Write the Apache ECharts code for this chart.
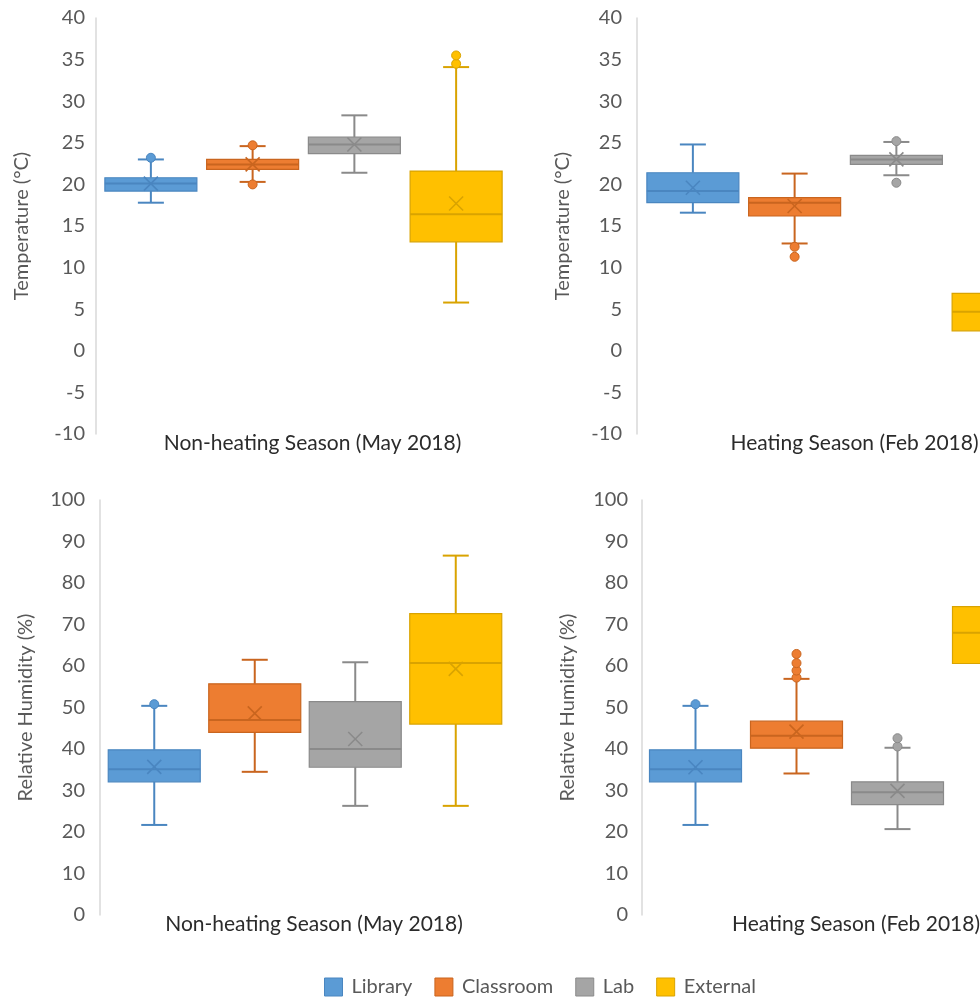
<!DOCTYPE html>
<html>
<head>
<meta charset="utf-8">
<script src="https://cdn.jsdelivr.net/npm/echarts@6/dist/echarts.min.js"></script>
<style>
html,body{margin:0;padding:0;background:#fff;}
#chart{width:980px;height:1000px;}
</style>
</head>
<body>
<div id="chart"></div>
<script>
// ---------- data ----------
const categories = ['Library', 'Classroom', 'Lab', 'External'];
const seasonLabels = ['Non-heating Season (May 2018)', 'Heating Season (Feb 2018)'];
const tempTitle = 'Temperature (°C)';
const rhTitle = 'Relative Humidity (%)';
const tempRange = [-10, 40, 5];
const rhRange = [0, 100, 10];

// each row: [lower whisker, Q1, median, Q3, upper whisker, mean]
const tempNonHeating = [
  [17.8, 19.2, 20.1, 20.8, 23.0, 20.1],
  [20.3, 21.8, 22.4, 23.0, 24.6, 22.4],
  [21.4, 23.7, 24.8, 25.7, 28.3, 24.8],
  [5.8, 13.1, 16.4, 21.6, 34.1, 17.7]
];
const tempNonHeatingOutliers = [[23.2], [24.7, 20.0], [], [34.5, 35.5]];

const tempHeating = [
  [16.6, 17.8, 19.2, 21.4, 24.8, 19.6],
  [12.9, 16.2, 17.8, 18.4, 21.3, 17.4],
  [21.1, 22.4, 23.0, 23.5, 25.1, 23.0],
  [-6.0, 2.4, 4.7, 6.9, 14.0, 4.6]
];
const tempHeatingOutliers = [[], [12.5, 11.3], [25.2, 20.2], []];

const rhNonHeating = [
  [21.7, 32.1, 35.1, 39.8, 50.4, 35.7],
  [34.5, 44.0, 47.0, 55.7, 61.5, 48.6],
  [26.3, 35.6, 40.0, 51.4, 60.9, 42.4],
  [26.3, 46.0, 60.7, 72.6, 86.6, 59.3]
];
const rhNonHeatingOutliers = [[50.8], [], [], []];

const rhHeating = [
  [21.7, 32.1, 35.1, 39.8, 50.4, 35.6],
  [34.1, 40.2, 43.2, 46.7, 56.9, 44.2],
  [20.7, 26.6, 29.6, 32.1, 40.3, 29.9],
  [45.0, 60.6, 68.0, 74.3, 92.0, 67.5]
];
const rhHeatingOutliers = [[50.8], [57.2, 58.9, 60.7, 62.9], [40.6, 42.6], []];

// ---------- styles ----------
const fills = ['#5B9BD5', '#ED7D31', '#A5A5A5', '#FFC000'];
const strokes = ['#4A86C0', '#C9651F', '#8A8A8A', '#D9A300'];
const FONT = 'Lato';

const panels = [
  { stats: tempNonHeating, outliers: tempNonHeatingOutliers, range: tempRange, title: tempTitle, season: seasonLabels[0],
    grid: { left: 100, top: 18, width: 407, height: 416 }, offset: 4, margin: 11 },
  { stats: tempHeating, outliers: tempHeatingOutliers, range: tempRange, title: tempTitle, season: seasonLabels[1],
    grid: { left: 642, top: 18, width: 407, height: 416 }, offset: 5, margin: 15 },
  { stats: rhNonHeating, outliers: rhNonHeatingOutliers, range: rhRange, title: rhTitle, season: seasonLabels[0],
    grid: { left: 104, top: 500, width: 402, height: 415 }, offset: 4, margin: 15 },
  { stats: rhHeating, outliers: rhHeatingOutliers, range: rhRange, title: rhTitle, season: seasonLabels[1],
    grid: { left: 645, top: 500, width: 404, height: 415 }, offset: 3, margin: 14 }
];

const BOX_W = 92, CAP_W = 26, X_HALF = 7;

function renderBox(ci) {
  return function (params, api) {
    const x = api.value(0);
    const pLow = api.coord([x, api.value(1)]);
    const pQ1 = api.coord([x, api.value(2)]);
    const pMed = api.coord([x, api.value(3)]);
    const pQ3 = api.coord([x, api.value(4)]);
    const pHigh = api.coord([x, api.value(5)]);
    const pMean = api.coord([x, api.value(6)]);
    const cx = pMed[0];
    const stroke = strokes[ci], fill = fills[ci];
    const ls = { stroke: stroke, lineWidth: 2, fill: null };
    return {
      type: 'group',
      children: [
        { type: 'line', shape: { x1: cx, y1: pLow[1], x2: cx, y2: pQ1[1] }, style: ls },
        { type: 'line', shape: { x1: cx, y1: pQ3[1], x2: cx, y2: pHigh[1] }, style: ls },
        { type: 'line', shape: { x1: cx - CAP_W / 2, y1: pLow[1], x2: cx + CAP_W / 2, y2: pLow[1] }, style: ls },
        { type: 'line', shape: { x1: cx - CAP_W / 2, y1: pHigh[1], x2: cx + CAP_W / 2, y2: pHigh[1] }, style: ls },
        { type: 'rect', shape: { x: cx - BOX_W / 2, y: pQ3[1], width: BOX_W, height: pQ1[1] - pQ3[1] },
          style: { fill: fill, stroke: stroke, lineWidth: 1.2 } },
        { type: 'line', shape: { x1: cx - BOX_W / 2, y1: pMed[1], x2: cx + BOX_W / 2, y2: pMed[1] }, style: ls },
        { type: 'line', shape: { x1: cx - X_HALF, y1: pMean[1] - X_HALF, x2: cx + X_HALF, y2: pMean[1] + X_HALF },
          style: { stroke: stroke, lineWidth: 1.6 } },
        { type: 'line', shape: { x1: cx - X_HALF, y1: pMean[1] + X_HALF, x2: cx + X_HALF, y2: pMean[1] - X_HALF },
          style: { stroke: stroke, lineWidth: 1.6 } }
      ]
    };
  };
}

const grids = [], xAxes = [], yAxes = [], series = [];
panels.forEach(function (p, gi) {
  grids.push(Object.assign({ containLabel: false, outerBoundsMode: 'none' }, p.grid));
  xAxes.push({
    type: 'category', gridIndex: gi, data: categories,
    axisLine: { show: false }, axisTick: { show: false }, axisLabel: { show: false }, splitLine: { show: false },
    name: p.season, nameLocation: 'middle', nameGap: -1,
    nameTextStyle: { fontFamily: FONT, fontSize: 21, color: '#2b2b2b', verticalAlign: 'top', padding: [0, 0, 0, 18] }
  });
  yAxes.push({
    type: 'value', gridIndex: gi, min: p.range[0], max: p.range[1], interval: p.range[2], offset: p.offset,
    axisLine: { show: true, lineStyle: { color: '#D9D9D9', width: 1.5 } },
    axisTick: { show: false }, splitLine: { show: false },
    axisLabel: { fontFamily: FONT, fontSize: 20, color: '#595959', margin: p.margin },
    name: p.title, nameLocation: 'middle', nameGap: 64,
    nameTextStyle: { fontFamily: FONT, fontSize: 20, color: '#595959' }
  });
  categories.forEach(function (cat, ci) {
    const s = p.stats[ci];
    series.push({
      type: 'custom', name: cat, xAxisIndex: gi, yAxisIndex: gi,
      itemStyle: { color: fills[ci] },
      clip: false,
      renderItem: renderBox(ci),
      encode: { x: 0, y: [1, 2, 3, 4, 5, 6] },
      data: [[ci, s[0], s[1], s[2], s[3], s[4], s[5]]],
      z: 2
    });
    if (p.outliers[ci].length) {
      series.push({
        type: 'scatter', name: cat + ' outliers', xAxisIndex: gi, yAxisIndex: gi,
        symbol: 'circle', symbolSize: 9,
        itemStyle: { color: fills[ci], borderColor: strokes[ci], borderWidth: 1, opacity: 1 },
        data: p.outliers[ci].map(function (v) { return [ci, v]; }),
        z: 3
      });
    }
  });
});

const chart = echarts.init(document.getElementById('chart'), null, { renderer: 'canvas' });
chart.setOption({
  animation: false,
  backgroundColor: '#ffffff',
  textStyle: { fontFamily: FONT },
  grid: grids,
  xAxis: xAxes,
  yAxis: yAxes,
  legend: {
    data: categories.map(function (c, i) {
      return { name: c, icon: 'rect', itemStyle: { color: fills[i], borderColor: strokes[i], borderWidth: 1 } };
    }),
    left: 324, top: 977, itemWidth: 18, itemHeight: 18, itemGap: 22, padding: 0,
    textStyle: { fontFamily: FONT, fontSize: 20, color: '#595959', padding: [0, 0, 0, 4] },
    selectedMode: false
  },
  series: series
});
</script>
</body>
</html>
